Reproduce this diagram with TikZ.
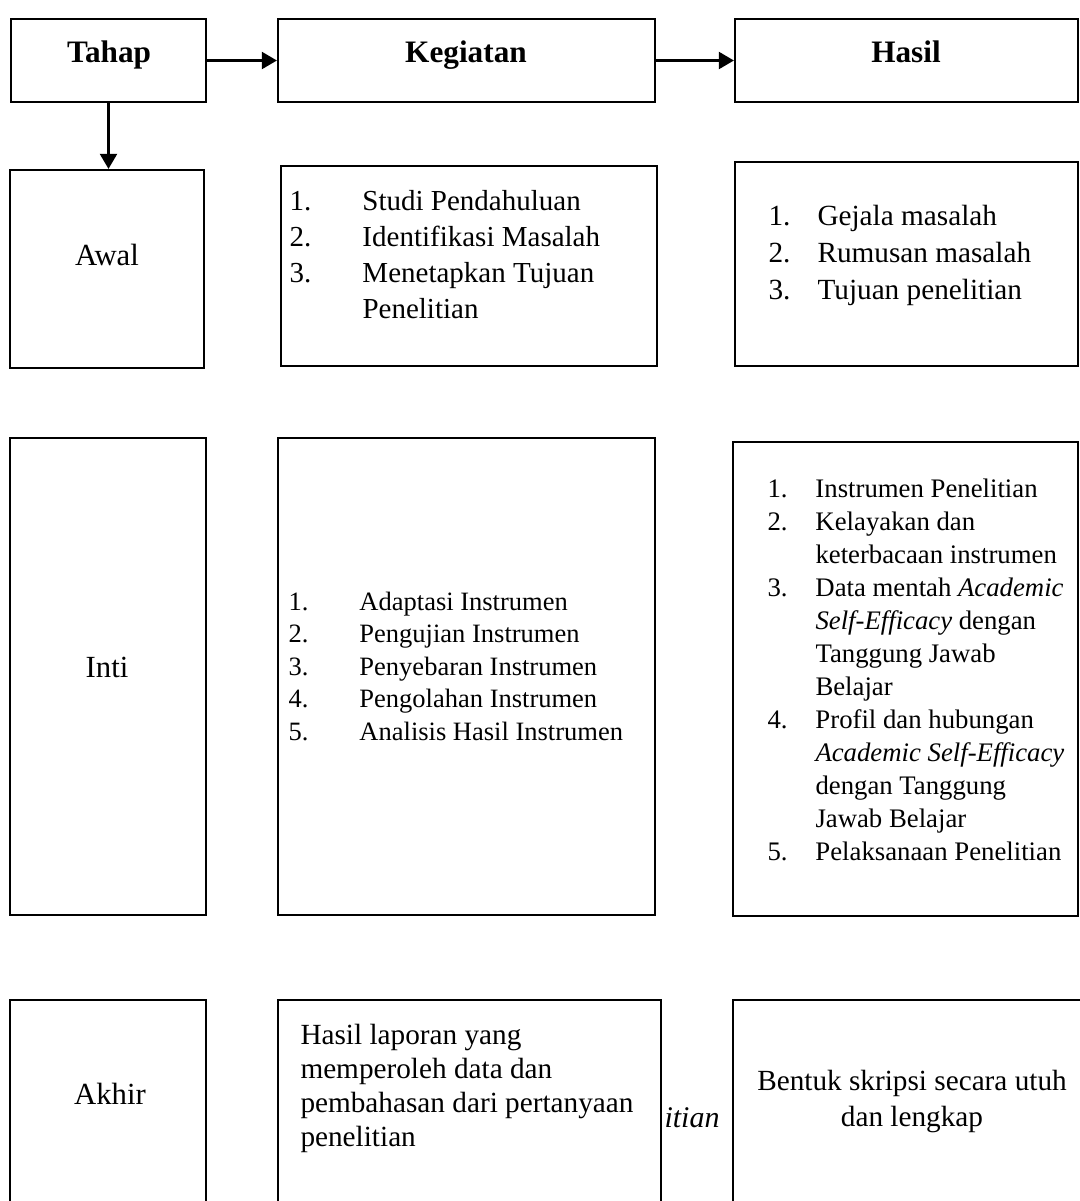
\documentclass[tikz,border=0pt]{standalone}
\usepackage{fontspec}
\setmainfont{Liberation Serif}
\usetikzlibrary{arrows.meta,fit}

\newcommand{\ukuran}[2]{\fontsize{#1}{#2}\selectfont}

\begin{document}
\begin{tikzpicture}[x=0.4pt,y=-0.4pt]
\tikzstyle{kotak}=[draw, line width=0.9pt, inner sep=0pt]
\tikzstyle{judul}=[anchor=base, inner sep=0pt, font=\bfseries\ukuran{12.5}{15}]
\tikzstyle{tahapan}=[anchor=base, inner sep=0pt, font=\ukuran{12.3}{15}]
\tikzstyle{daftar}=[anchor=base west, inner sep=0pt]
\tikzstyle{panah}=[-{Triangle[length=6pt,width=6.8pt]}, line width=0.9pt]
\clip (0,0) rectangle (1080,1201);

% baris judul
\node[kotak, fit={(11,19) (206,102)}] (tahap) {};
\node[kotak, fit={(278,19) (655,102)}] (kegiatan) {};
\node[kotak, fit={(735,19) (1078,102)}] (hasil) {};
\node[judul] at (109,62) {Tahap};
\node[judul] at (466,62) {Kegiatan};
\node[judul] at (906,62) {Hasil};

% tahap awal
\node[kotak, fit={(10,170) (204,368)}] (awal) {};
\node[kotak, fit={(281,166) (657,366)}] (kegawal) {};
\node[kotak, fit={(735,162) (1078,366)}] (hasawal) {};
\node[tahapan] at (107,265) {Awal};
\node[daftar] at (289,210) {\ukuran{11.6}{14.4}\begin{tabular}[t]{@{}p{29.2pt}@{}l@{}}
1. & Studi Pendahuluan\\
2. & Identifikasi Masalah\\
3. & Menetapkan Tujuan\\
   & Penelitian
\end{tabular}};
\node[daftar] at (768,225) {\ukuran{11.7}{14.8}\begin{tabular}[t]{@{}p{19.6pt}@{}l@{}}
1. & Gejala masalah\\
2. & Rumusan masalah\\
3. & Tujuan penelitian
\end{tabular}};

% tahap inti
\node[kotak, fit={(10,438) (206,915)}] (inti) {};
\node[kotak, fit={(278,438) (655,915)}] (keginti) {};
\node[kotak, fit={(733,442) (1078,916)}] (hasinti) {};
\node[tahapan] at (107,677) {Inti};
\node[daftar] at (288,610) {\ukuran{10.6}{13}\begin{tabular}[t]{@{}p{28.4pt}@{}l@{}}
1. & Adaptasi Instrumen\\
2. & Pengujian Instrumen\\
3. & Penyebaran Instrumen\\
4. & Pengolahan Instrumen\\
5. & Analisis Hasil Instrumen
\end{tabular}};
\node[daftar] at (767,497) {\ukuran{10.7}{13.2}\begin{tabular}[t]{@{}p{19.2pt}@{}l@{}}
1. & Instrumen Penelitian\\
2. & Kelayakan dan\\
   & keterbacaan instrumen\\
3. & Data mentah \textit{Academic}\\
   & \textit{Self-Efficacy} dengan\\
   & Tanggung Jawab\\
   & Belajar\\
4. & Profil dan hubungan\\
   & \textit{Academic Self-Efficacy}\\
   & dengan Tanggung\\
   & Jawab Belajar\\
5. & Pelaksanaan Penelitian
\end{tabular}};

% tahap akhir
\node[anchor=base west, inner sep=0pt, font=\itshape\ukuran{12}{14}] (sisa) at (664,1127) {itian};
\node[kotak, fit={(10,1000) (206,1215)}] (akhir) {};
\node[kotak, fit={(278,1000) (661,1215)}] (kegakhir) {};
\node[kotak, fit={(733,1000) (1095,1215)}] (hasakhir) {};
\node[tahapan] at (110,1104) {Akhir};
\node[daftar] at (300,1044) {\ukuran{11.7}{13.6}\begin{tabular}[t]{@{}l@{}}
Hasil laporan yang\\
memperoleh data dan\\
pembahasan dari pertanyaan\\
penelitian
\end{tabular}};
\node[anchor=base, inner sep=0pt] at (912,1090) {\ukuran{11.7}{14.4}\begin{tabular}[t]{@{}c@{}}
Bentuk skripsi secara utuh\\
dan lengkap
\end{tabular}};

% panah
\draw[panah] (tahap) -- (kegiatan);
\draw[panah] (kegiatan) -- (hasil);
\draw[panah] (tahap.south) -- (tahap.south |- awal.north);
\end{tikzpicture}
\end{document}
